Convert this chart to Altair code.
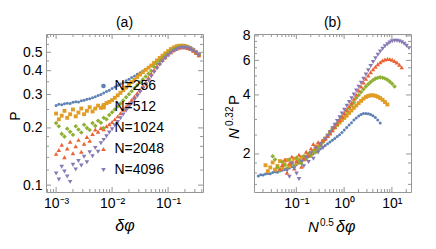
import altair as alt
import pandas as pd

# ---------------- data ----------------
dphi = [0.00100, 0.00112, 0.00126, 0.00141, 0.00158, 0.00178, 0.00200, 0.00224, 0.00251, 0.00282,
        0.00316, 0.00355, 0.00398, 0.00447, 0.00501, 0.00562, 0.00631, 0.00708, 0.00794, 0.00891,
        0.0100, 0.0112, 0.0126, 0.0141, 0.0158, 0.0178, 0.0200, 0.0224, 0.0251, 0.0282,
        0.0316, 0.0355, 0.0398, 0.0447, 0.0501, 0.0562, 0.0631, 0.0708, 0.0794, 0.0891,
        0.100, 0.112, 0.126, 0.141, 0.158, 0.178, 0.200, 0.224, 0.251, 0.282,
        0.316, 0.355]

P_N256 = [0.262, 0.266, 0.265, 0.268, 0.270, 0.269, 0.273, 0.275, 0.274, 0.278,
          0.280, 0.283, 0.285, 0.288, 0.292, 0.296, 0.300, 0.305, 0.311, 0.316,
          0.322, 0.328, 0.334, 0.340, 0.347, 0.354, 0.361, 0.368, 0.375, 0.383,
          0.390, 0.398, 0.407, 0.416, 0.425, 0.437, 0.450, 0.463, 0.476, 0.490,
          0.505, 0.518, 0.530, 0.539, 0.545, 0.546, 0.544, 0.539, 0.531, 0.520,
          0.505, 0.488]

P_N512 = [0.238, 0.222, 0.232, 0.246, 0.226, 0.236, 0.250, 0.230, 0.241, 0.253,
          0.236, 0.246, 0.257, 0.244, 0.253, 0.262, 0.255, 0.264, 0.270, 0.274,
          0.280, 0.288, 0.297, 0.306, 0.316, 0.326, 0.337, 0.348, 0.359, 0.371,
          0.382, 0.393, 0.404, 0.415, 0.426, 0.440, 0.453, 0.467, 0.480, 0.494,
          0.507, 0.520, 0.530, 0.537, 0.541, 0.541, 0.538, 0.532, 0.524, 0.513,
          0.500, 0.486]

P_N1024 = [0.212, 0.204, 0.186, 0.180, 0.198, 0.191, 0.184, 0.204, 0.196, 0.189,
           0.208, 0.200, 0.195, 0.212, 0.205, 0.218, 0.213, 0.226, 0.222, 0.234,
           0.242, 0.250, 0.259, 0.269, 0.279, 0.290, 0.301, 0.312, 0.324, 0.336,
           0.348, 0.360, 0.373, 0.386, 0.399, 0.420, 0.435, 0.450, 0.465, 0.480,
           0.494, 0.507, 0.518, 0.527, 0.533, 0.535, 0.533, 0.528, 0.520, 0.509,
           0.496, 0.481]

P_N2048 = [0.146, 0.153, 0.163, 0.140, 0.156, 0.169, 0.147, 0.160, 0.173, 0.150,
           0.165, 0.179, 0.171, 0.186, 0.196, 0.191, 0.200, 0.197, 0.204, 0.209,
           0.215, 0.222, 0.230, 0.239, 0.249, 0.259, 0.270, 0.281, 0.293, 0.305,
           0.318, 0.333, 0.349, 0.367, 0.385, 0.404, 0.421, 0.438, 0.455, 0.471,
           0.486, 0.500, 0.512, 0.522, 0.529, 0.532, 0.531, 0.527, 0.520, 0.510,
           0.497, 0.482]

P_N4096 = [0.115, 0.107, 0.125, 0.118, 0.111, 0.104, 0.128, 0.121, 0.134, 0.127,
           0.141, 0.132, 0.149, 0.142, 0.157, 0.150, 0.166, 0.173, 0.181, 0.189,
           0.197, 0.206, 0.215, 0.225, 0.235, 0.246, 0.257, 0.269, 0.281, 0.294,
           0.308, 0.322, 0.338, 0.355, 0.373, 0.392, 0.411, 0.430, 0.448, 0.465,
           0.481, 0.495, 0.507, 0.517, 0.524, 0.528, 0.528, 0.525, 0.519, 0.510,
           0.498, 0.484]

N_values = [256, 512, 1024, 2048, 4096]
series_labels = ["N=256", "N=512", "N=1024", "N=2048", "N=4096"]
P_series = [P_N256, P_N512, P_N1024, P_N2048, P_N4096]

# tick values
xa_major = [0.001, 0.01, 0.1]
xa_minor = [0.0007, 0.0008, 0.0009, 0.002, 0.003, 0.004, 0.005, 0.006, 0.007, 0.008, 0.009,
            0.02, 0.03, 0.04, 0.05, 0.06, 0.07, 0.08, 0.09, 0.2, 0.3, 0.4]
ya_major = [0.1, 0.2, 0.3, 0.4, 0.5]
ya_minor = [0.12, 0.14, 0.16, 0.18, 0.25, 0.35, 0.45, 0.55, 0.6]
xb_major = [0.1, 1, 10]
xb_minor = [0.02, 0.03, 0.04, 0.05, 0.06, 0.07, 0.08, 0.09, 0.2, 0.3, 0.4, 0.5, 0.6, 0.7,
            0.8, 0.9, 2, 3, 4, 5, 6, 7, 8, 9, 20]
yb_major = [2, 4, 6, 8]
yb_minor = [1.4, 1.6, 1.8, 2.5, 3, 3.5, 4.5, 5, 5.5, 6.5, 7, 7.5]

rows = []
for n, lab, ps in zip(N_values, series_labels, P_series):
    for d, p in zip(dphi, ps):
        rows.append({"N": n, "series": lab, "dphi": d, "P": p})
df = pd.DataFrame(rows)

# ---------------- styling ----------------
FONT = "Liberation Sans"
FRAME = "#969696"
W, H = 157, 158
colors = ["#5E81B5", "#E19C24", "#8FB032", "#EB6235", "#8778B3"]
shapes = ["circle", "square", "diamond", "triangle-up", "triangle-down"]
size_expr = "datum.N == 256 ? 9 : (datum.N == 512 ? 15 : 21)"


def make_axis(values, label_expr=None, fmt=None):
    kw = dict(values=values, title=None, domain=False, ticks=False, grid=False,
              labelFont=FONT, labelFontSize=14, labelColor="black", labelPadding=4,
              labelOverlap=False, labelFlush=False)
    if label_expr:
        kw["labelExpr"] = label_expr
    if fmt:
        kw["format"] = fmt
    return alt.Axis(**kw)


def txt(s, x, y, size=14, italic=False, angle=0, align="center"):
    kw = dict(font=FONT, fontSize=size, fontStyle="italic" if italic else "normal",
              align=align, baseline="alphabetic", color="black")
    if angle:
        kw["angle"] = angle
    return alt.Chart(pd.DataFrame({"t": [s]})).mark_text(**kw).encode(
        text="t:N", x=alt.value(x), y=alt.value(y))


def tick_layers(xscale, yscale, xaxis, yaxis, xmaj, xmin, ymaj, ymin):
    layers = []
    for vals, ln in ((xmaj, 5), (xmin, 3)):
        d = pd.DataFrame({"v": vals})
        layers.append(alt.Chart(d).mark_rule(color=FRAME, strokeWidth=1).encode(
            x=alt.X("v:Q", scale=xscale, axis=xaxis), y=alt.value(H), y2=alt.value(H - ln)))
        layers.append(alt.Chart(d).mark_rule(color=FRAME, strokeWidth=1).encode(
            x=alt.X("v:Q", scale=xscale, axis=xaxis), y=alt.value(0), y2=alt.value(ln)))
    for vals, ln in ((ymaj, 5), (ymin, 3)):
        d = pd.DataFrame({"v": vals})
        layers.append(alt.Chart(d).mark_rule(color=FRAME, strokeWidth=1).encode(
            y=alt.Y("v:Q", scale=yscale, axis=yaxis), x=alt.value(0), x2=alt.value(ln)))
        layers.append(alt.Chart(d).mark_rule(color=FRAME, strokeWidth=1).encode(
            y=alt.Y("v:Q", scale=yscale, axis=yaxis), x=alt.value(W), x2=alt.value(W - ln)))
    return layers


# ---------------- panel (a) ----------------
xa = alt.Scale(type="log", domain=[0.00066, 0.42], nice=False)
ya = alt.Scale(type="log", domain=[0.092, 0.624], nice=False)
xa_axis = make_axis(xa_major, "datum.value < 0.005 ? '10⁻³' : (datum.value < 0.05 ? '10⁻²' : '10⁻¹')")
ya_axis = make_axis(ya_major, fmt=".1f")

legend = alt.Legend(orient="none", legendX=50.5, legendY=45, title=None, labelFont=FONT,
                    labelFontSize=14, labelColor="black", labelOffset=4, rowPadding=7,
                    symbolSize=22, symbolStrokeWidth=0, padding=0)

pts_a = alt.Chart(df).transform_calculate(msz=size_expr).mark_point(
    filled=True, opacity=1, strokeWidth=0).encode(
    x=alt.X("dphi:Q", scale=xa, axis=xa_axis),
    y=alt.Y("P:Q", scale=ya, axis=ya_axis),
    color=alt.Color("series:N", scale=alt.Scale(domain=series_labels, range=colors), legend=legend),
    shape=alt.Shape("series:N", scale=alt.Scale(domain=series_labels, range=shapes), legend=legend),
    size=alt.Size("msz:Q", scale=None),
)

panel_a = alt.layer(
    pts_a,
    *tick_layers(xa, ya, xa_axis, ya_axis, xa_major, xa_minor, ya_major, ya_minor),
    txt("(a)", 78.5, -7),
    txt("δφ", 79, 197, size=16, italic=True),
    txt("P", -26, 82, size=14, angle=270),
).properties(width=W, height=H)

# ---------------- panel (b) ----------------
xb = alt.Scale(type="log", domain=[0.013, 25.1], nice=False)
yb = alt.Scale(type="log", domain=[1.28, 8.18], nice=False)
xb_axis = make_axis(xb_major, "datum.value < 0.5 ? '10⁻¹' : (datum.value < 5 ? '10⁰' : '10¹')")
yb_axis = make_axis(yb_major, fmt="d")

pts_b = alt.Chart(df).transform_calculate(
    X="sqrt(datum.N) * datum.dphi",
    Y="pow(datum.N, 0.32) * datum.P",
    msz=size_expr,
).mark_point(filled=True, opacity=1, strokeWidth=0).encode(
    x=alt.X("X:Q", scale=xb, axis=xb_axis),
    y=alt.Y("Y:Q", scale=yb, axis=yb_axis),
    color=alt.Color("series:N", scale=alt.Scale(domain=series_labels, range=colors), legend=None),
    shape=alt.Shape("series:N", scale=alt.Scale(domain=series_labels, range=shapes), legend=None),
    size=alt.Size("msz:Q", scale=None),
)

panel_b = alt.layer(
    pts_b,
    *tick_layers(xb, yb, xb_axis, yb_axis, xb_major, xb_minor, yb_major, yb_minor),
    txt("(b)", 78.5, -7),
    txt("N", 54, 198, size=15, italic=True, align="left"),
    txt("0.5", 66, 192, size=10, align="left"),
    txt("δφ", 82, 198, size=16, italic=True, align="left"),
    txt("N", -15, 105, size=15, italic=True, angle=270, align="left"),
    txt("0.32", -21, 92, size=10, angle=270, align="left"),
    txt("P", -15, 71, size=15, angle=270, align="left"),
).properties(width=W, height=H)

chart = alt.hconcat(panel_a, panel_b, spacing=51, bounds="flush").resolve_scale(
    color="independent", shape="independent"
).properties(
    padding={"left": 0, "top": 7, "right": 4, "bottom": 4}
).configure_view(stroke=FRAME, strokeWidth=1)

chart.save("out.html", embed_options={"renderer": "svg", "actions": False})
